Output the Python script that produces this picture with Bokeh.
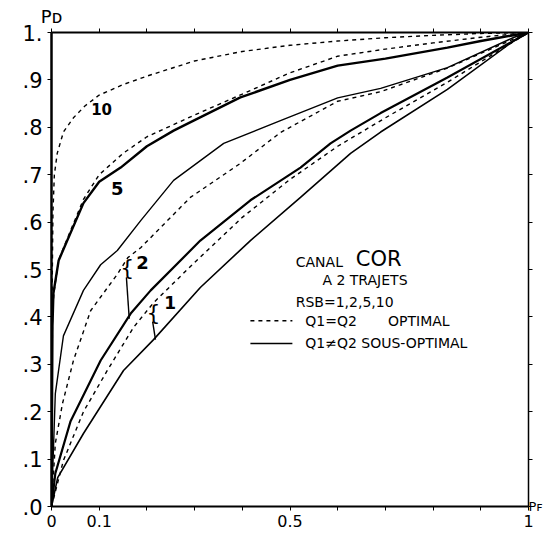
import numpy as np
from bokeh.plotting import figure
from bokeh.models import Range1d, LinearAxis, FixedTicker, Label
from bokeh.embed import file_html
from bokeh.resources import INLINE

# ---- data ----
pf_10_opt = [0, 0.001, 0.003, 0.006, 0.012, 0.025, 0.046, 0.07, 0.1, 0.15, 0.2, 0.3, 0.4, 0.5, 0.6, 0.7, 0.8, 0.9, 1.0]
pd_10_opt = [0, 0.42, 0.62, 0.70, 0.745, 0.79, 0.82, 0.845, 0.868, 0.89, 0.908, 0.94, 0.96, 0.973, 0.982, 0.989, 0.994, 0.998, 1.0]

pf_5_opt = [0, 0.002, 0.005, 0.015, 0.033, 0.067, 0.1, 0.15, 0.2, 0.3, 0.4, 0.5, 0.6, 0.7, 0.8, 0.9, 1.0]
pd_5_opt = [0, 0.40, 0.45, 0.52, 0.565, 0.648, 0.70, 0.745, 0.78, 0.826, 0.87, 0.915, 0.95, 0.965, 0.978, 0.99, 1.0]

pf_5_sub = [0, 0.002, 0.004, 0.015, 0.033, 0.067, 0.1, 0.145, 0.2, 0.256, 0.3, 0.396, 0.5, 0.6, 0.7, 0.83, 0.9, 1.0]
pd_5_sub = [0, 0.38, 0.45, 0.519, 0.561, 0.64, 0.685, 0.715, 0.76, 0.793, 0.815, 0.863, 0.9, 0.93, 0.945, 0.968, 0.982, 1.0]

pf_10_sub = [0, 0.008, 0.025, 0.067, 0.103, 0.138, 0.187, 0.256, 0.361, 0.48, 0.6, 0.69, 0.83, 0.97, 1.0]
pd_10_sub = [0, 0.238, 0.36, 0.456, 0.51, 0.54, 0.603, 0.688, 0.766, 0.814, 0.862, 0.882, 0.926, 0.99, 1.0]

pf_2_opt = [0, 0.008, 0.023, 0.046, 0.082, 0.138, 0.16, 0.187, 0.291, 0.396, 0.48, 0.6, 0.69, 0.83, 1.0]
pd_2_opt = [0, 0.133, 0.217, 0.308, 0.413, 0.49, 0.525, 0.546, 0.652, 0.724, 0.789, 0.855, 0.875, 0.925, 1.0]

pf_2_sub = [0, 0.008, 0.04, 0.103, 0.166, 0.208, 0.312, 0.417, 0.522, 0.585, 0.627, 0.69, 0.83, 1.0]
pd_2_sub = [0, 0.07, 0.18, 0.308, 0.407, 0.456, 0.561, 0.646, 0.715, 0.766, 0.793, 0.83, 0.905, 1.0]

pf_1_opt = [0, 0.025, 0.067, 0.117, 0.172, 0.214, 0.3, 0.4, 0.5, 0.6, 0.7, 0.83, 1.0]
pd_1_opt = [0, 0.097, 0.2, 0.287, 0.378, 0.43, 0.515, 0.61, 0.69, 0.76, 0.82, 0.895, 1.0]

pf_1_sub = [0, 0.013, 0.067, 0.151, 0.214, 0.312, 0.417, 0.522, 0.627, 0.69, 0.83, 0.97, 1.0]
pd_1_sub = [0, 0.061, 0.154, 0.287, 0.352, 0.462, 0.561, 0.652, 0.745, 0.79, 0.88, 0.983, 1.0]

y_ticks = [0.0, 0.1, 0.2, 0.3, 0.4, 0.5, 0.6, 0.7, 0.8, 0.9, 1.0]
y_tick_labels = [".0", ".1", ".2", ".3", ".4", ".5", ".6", ".7", ".8", ".9", "1."]
x_ticks = [0.0, 0.1, 0.2, 0.3, 0.4, 0.5, 0.6, 0.7, 0.8, 0.9, 1.0]
x_tick_labels = ["0", "0.1", "", "", "", "0.5", "", "", "", "", "1"]
pd_name = "P\u1d05"   # P with small D
pf_name = "P\ua730"   # P with small F

FONT = "DejaVu Sans"
INK = "black"

p = figure(width=547, height=532, output_backend="svg", toolbar_location=None,
           x_range=Range1d(0, 1), y_range=Range1d(0, 1),
           min_border_left=51, min_border_right=19, min_border_top=32, min_border_bottom=26)
p.frame_width = 477
p.frame_height = 474
p.xgrid.visible = False
p.ygrid.visible = False
p.outline_line_color = None
p.background_fill_color = "white"

# axes
p.xaxis.ticker = FixedTicker(ticks=x_ticks)
p.xaxis.major_label_overrides = {t: l for t, l in zip(x_ticks, x_tick_labels)}
p.yaxis.ticker = FixedTicker(ticks=y_ticks)
p.yaxis.major_label_overrides = {t: l for t, l in zip(y_ticks, y_tick_labels)}
for ax in (p.xaxis[0], p.yaxis[0]):
    ax.axis_line_color = INK
    ax.major_tick_line_color = INK
    ax.minor_tick_line_color = None
    ax.major_tick_out = 4
    ax.major_tick_in = 0
    ax.major_label_text_font = FONT
    ax.major_label_text_color = INK
p.yaxis.axis_line_width = 2.5
p.xaxis.axis_line_width = 2
p.yaxis.major_label_text_font_size = "21px"
p.xaxis.major_label_text_font_size = "16px"
p.yaxis.major_label_standoff = 5
p.xaxis.major_label_standoff = 4

top = LinearAxis(ticker=FixedTicker(ticks=x_ticks), major_label_text_font_size="0px",
                 axis_line_width=2, major_tick_out=4, major_tick_in=0, minor_tick_line_color=None,
                 major_label_standoff=0,
                 axis_label=pd_name, axis_label_align="start", axis_label_standoff=2,
                 axis_label_text_font=FONT, axis_label_text_font_size="18px",
                 axis_label_text_font_style="normal", axis_label_text_color=INK)
right = LinearAxis(ticker=FixedTicker(ticks=y_ticks), major_label_text_font_size="0px",
                   axis_line_width=1.5, major_tick_out=4, major_tick_in=0, minor_tick_line_color=None,
                   major_label_standoff=0,
                   axis_label=pf_name, axis_label_align="start", axis_label_standoff=-4,
                   axis_label_orientation="horizontal",
                   axis_label_text_font=FONT, axis_label_text_font_size="13px",
                   axis_label_text_font_style="normal", axis_label_text_color=INK)
p.add_layout(top, "above")
p.add_layout(right, "right")

# curves
dash = "4 4"
p.line(pf_10_opt, pd_10_opt, line_color=INK, line_width=1.4, line_dash=dash)
p.line(pf_5_opt, pd_5_opt, line_color=INK, line_width=1.4, line_dash=dash)
p.line(pf_5_sub, pd_5_sub, line_color=INK, line_width=2.4)
p.line(pf_10_sub, pd_10_sub, line_color=INK, line_width=1.4)
p.line(pf_2_opt, pd_2_opt, line_color=INK, line_width=1.4, line_dash=dash)
p.line(pf_2_sub, pd_2_sub, line_color=INK, line_width=2.2)
p.line(pf_1_opt, pd_1_opt, line_color=INK, line_width=1.4, line_dash=dash)
p.line(pf_1_sub, pd_1_sub, line_color=INK, line_width=1.6)

# braces linking the optimal / sub-optimal pairs
for xb, (xo, yo), (xs, ys) in [(0.159, (pf_2_opt, pd_2_opt), (pf_2_sub, pd_2_sub)),
                               (0.214, (pf_1_opt, pd_1_opt), (pf_1_sub, pd_1_sub))]:
    y_top = float(np.interp(xb, xo, yo))
    y_bot = float(np.interp(xb, xs, ys))
    p.line([xb - 0.002, xb + 0.004], [y_top - 0.04, y_bot], line_color=INK, line_width=1.4)
    p.add_layout(Label(x=xb, y=y_top, y_offset=3, text="{", text_font=FONT, text_font_size="22px",
                       text_align="center", text_baseline="top", text_color=INK))

# curve labels
for txt, x, y, fs in [("10", 0.105, 0.838, "15px"), ("5", 0.138, 0.671, "18px"),
                      ("2", 0.191, 0.515, "18px"), ("1", 0.249, 0.43, "17px")]:
    p.add_layout(Label(x=x, y=y, text=txt, text_font=FONT, text_font_size=fs,
                       text_font_style="bold", text_align="center", text_baseline="middle",
                       text_color=INK))

# annotation block
NB = "\u00a0"
p.add_layout(Label(x=0.686, y=0.523, text="COR", text_font=FONT, text_font_size="21px",
                   text_align="center", text_baseline="middle", text_color=INK))
texts = [("CANAL", 0.512, 0.515), ("A" + NB + "2" + NB + "TRAJETS", 0.568, 0.477),
         ("RSB=1,2,5,10", 0.512, 0.432),
         ("Q1=Q2" + NB * 7 + "OPTIMAL", 0.532, 0.392), ("Q1\u2260Q2" + NB + "SOUS-OPTIMAL", 0.532, 0.344)]
for txt, x, y in texts:
    p.add_layout(Label(x=x, y=y, text=txt, text_font=FONT, text_font_size="14px",
                       text_align="left", text_baseline="middle", text_color=INK))
p.line([0.417, 0.505], [0.392, 0.392], line_color=INK, line_width=1.4, line_dash=dash)
p.line([0.417, 0.505], [0.344, 0.344], line_color=INK, line_width=1.6)

open("out.html", "w").write(file_html(p, INLINE))
